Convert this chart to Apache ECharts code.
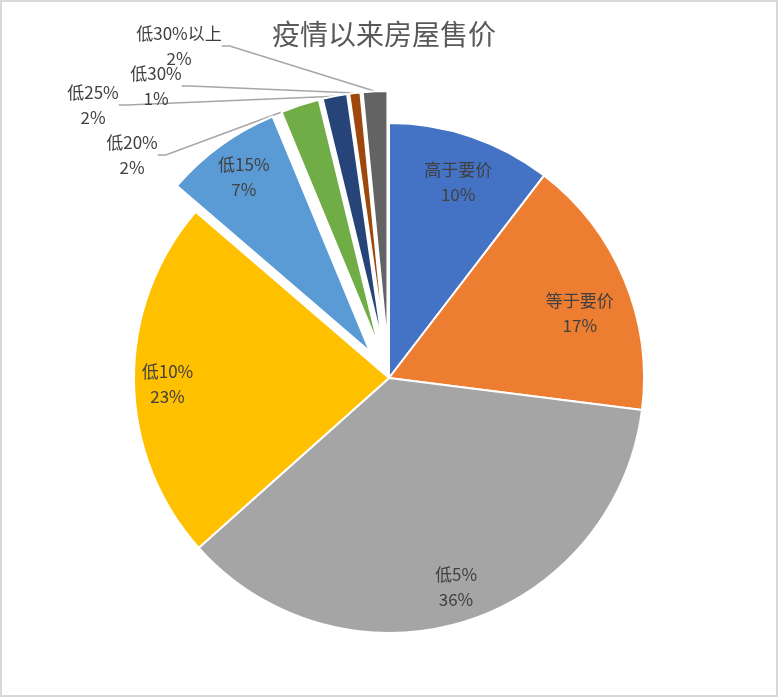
<!DOCTYPE html>
<html>
<head>
<meta charset="utf-8">
<script src="https://cdn.jsdelivr.net/npm/echarts@6/dist/echarts.min.js"></script>
<style>
html,body{margin:0;padding:0;background:#fff;}
#chart{position:absolute;left:0;top:0;width:778px;height:697px;}
#frame{position:absolute;left:0;top:0;width:778px;height:697px;box-sizing:border-box;border:2px solid #d9d9d9;pointer-events:none;}
</style>
</head>
<body>
<div id="chart"></div>
<div id="frame"></div>
<script>
// ---- data ----
const titleText = '疫情以来房屋售价';
const categories = ['高于要价', '等于要价', '低5%', '低10%', '低15%', '低20%', '低25%', '低30%', '低30%以上'];
const shares = [10.4, 16.6, 36.4, 22.9, 7.45, 2.45, 1.55, 0.7, 1.55];
const exploded = [false, false, false, false, true, true, true, true, true];
const outsideLabel = [false, false, false, false, false, true, true, true, true];

// ---- styles / layout ----
const colors = ['#4472C4', '#ED7D31', '#A5A5A5', '#FFC000', '#5B9BD5', '#70AD47', '#264478', '#9E480E', '#636363'];
const outerLabelPos = { 5: [132, 155], 6: [93, 105], 7: [156, 86], 8: [179, 46] };
const innerLabelShift = { 0: [0, 8], 1: [-8, 18], 2: [3, 3], 3: [-6, 4], 4: [0, 7] };
const FONT = '"Noto Sans CJK SC", "Noto Sans", sans-serif';
const CENTER = [389, 378];
const R = 255;
const OFFSET = 32;

const labelStyle = {
  formatter: '{b}\n{d}%',
  fontSize: 17,
  lineHeight: 25,
  color: '#404040',
  fontFamily: FONT,
  align: 'center'
};

const common = {
  type: 'pie',
  center: CENTER,
  startAngle: 90,
  clockwise: true,
  percentPrecision: 0,
  avoidLabelOverlap: false,
  emphasis: { disabled: true }
};

const chart = echarts.init(document.getElementById('chart'), null, { renderer: 'canvas' });
chart.setOption({
  animation: false,
  color: colors,
  backgroundColor: '#fff',
  title: {
    text: titleText,
    left: 267,
    top: 15,
    textStyle: { fontSize: 28, fontWeight: 'normal', color: '#595959', fontFamily: FONT }
  },
  series: [
    // slices
    Object.assign({}, common, {
      radius: R,
      selectedMode: 'multiple',
      selectedOffset: OFFSET,
      itemStyle: { borderColor: '#fff', borderWidth: 2 },
      select: { itemStyle: { borderColor: '#fff', borderWidth: 2 } },
      label: { show: false },
      labelLine: { show: false },
      data: categories.map((n, i) => ({ name: n, value: shares[i], selected: exploded[i] }))
    }),
    // labels inside the slices
    Object.assign({}, common, {
      radius: [170, R],
      silent: true,
      selectedMode: 'multiple',
      selectedOffset: OFFSET,
      itemStyle: { color: 'rgba(0,0,0,0)', borderWidth: 0 },
      select: { itemStyle: { color: 'rgba(0,0,0,0)', borderWidth: 0 } },
      label: Object.assign({ show: true, position: 'inside' }, labelStyle),
      labelLine: { show: false },
      data: categories.map((n, i) => ({
        name: n,
        value: shares[i],
        selected: exploded[i],
        label: { show: !outsideLabel[i], offset: innerLabelShift[i] || [0, 0] }
      }))
    }),
    // callout labels for the small exploded slices
    Object.assign({}, common, {
      radius: R + OFFSET,
      silent: true,
      itemStyle: { color: 'rgba(0,0,0,0)', borderWidth: 0 },
      label: Object.assign({ show: true, position: 'outside' }, labelStyle),
      labelLine: { show: true, length: 10, length2: 8, smooth: false, lineStyle: { color: '#A6A6A6', width: 1.5 } },
      labelLayout: function (p) {
        const pos = outerLabelPos[p.dataIndex];
        if (!pos) return {};
        return { x: pos[0], y: pos[1], align: 'center', verticalAlign: 'middle' };
      },
      data: categories.map((n, i) => ({
        name: n,
        value: shares[i],
        label: { show: outsideLabel[i] },
        labelLine: { show: outsideLabel[i] }
      }))
    })
  ]
});
</script>
</body>
</html>
